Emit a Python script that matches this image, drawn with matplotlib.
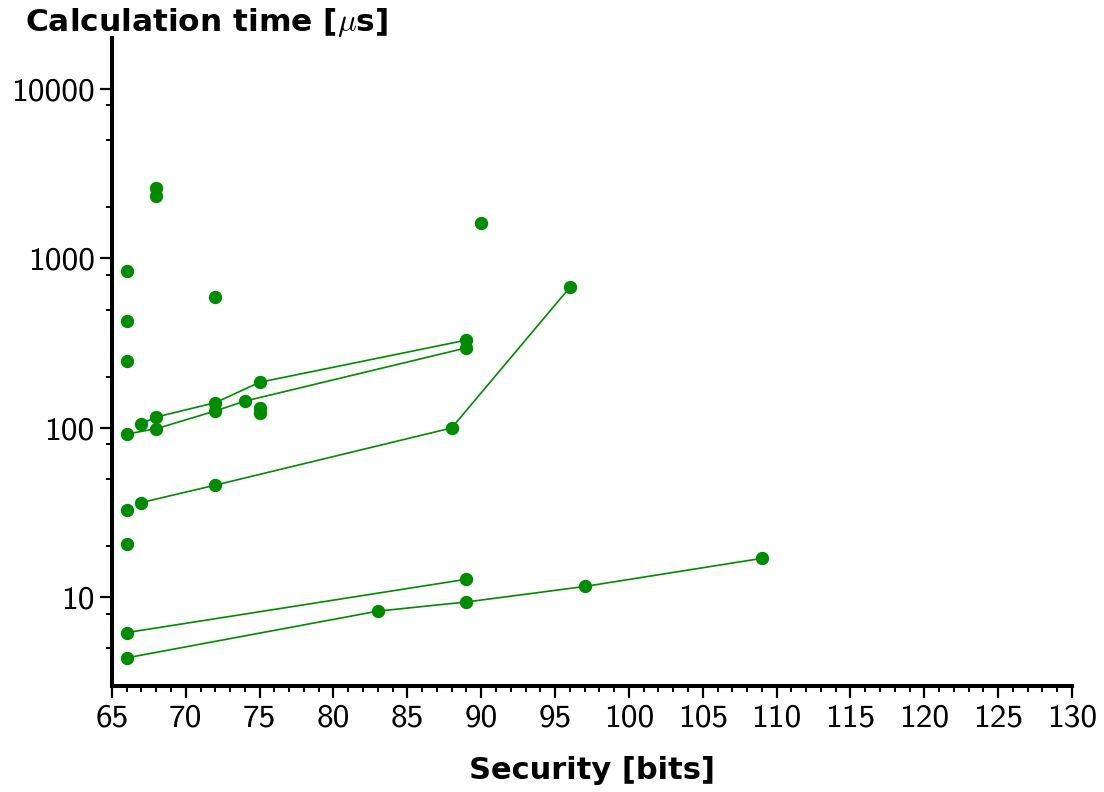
import matplotlib
matplotlib.use("Agg")
import matplotlib.pyplot as plt
from matplotlib.ticker import FixedLocator, MultipleLocator, FixedFormatter

plt.rcParams['mathtext.fontset'] = 'cm'

GREEN = '#008c00'

# Connected series (security bits, time in microseconds)
s1_x = [67, 68, 72, 75, 89]
s1_y = [106, 116, 141, 186, 330]
s2_x = [66, 68, 72, 74, 89]
s2_y = [92, 99, 126, 144, 297]
s3_x = [67, 72, 88, 96]
s3_y = [36.3, 46, 100, 675]
s4_x = [66, 89]
s4_y = [6.2, 12.8]
s5_x = [66, 83, 89, 97, 109]
s5_y = [4.4, 8.3, 9.4, 11.6, 17.0]

# Isolated points
pts_x = [68, 68, 66, 66, 66, 72, 90, 75, 75, 66, 66]
pts_y = [2595, 2345, 846, 428, 249, 589, 1618, 132, 123, 33, 20.8]

xticks = [65, 70, 75, 80, 85, 90, 95, 100, 105, 110, 115, 120, 125, 130]
yticks = [10, 100, 1000, 10000]
ytick_labels = ['10', '100', '1000', '10000']

fig = plt.figure(figsize=(11.04, 7.92), dpi=100)
ax = fig.add_axes([0.1014, 0.1338, 0.8696, 0.8182])

for xs, ys in [(s1_x, s1_y), (s2_x, s2_y), (s3_x, s3_y), (s4_x, s4_y), (s5_x, s5_y)]:
    ax.plot(xs, ys, color=GREEN, lw=1.2, marker='o', ms=8.6, mec=GREEN, mfc=GREEN)
ax.plot(pts_x, pts_y, ls='none', marker='o', ms=8.6, color=GREEN)

ax.set_yscale('log')
ax.set_xlim(65, 130)
ax.set_ylim(3, 20000)

ax.xaxis.set_major_locator(FixedLocator(xticks))
ax.xaxis.set_minor_locator(MultipleLocator(1))
ax.yaxis.set_major_locator(FixedLocator(yticks))
ax.yaxis.set_major_formatter(FixedFormatter(ytick_labels))
minor = []
for d in [1, 10, 100, 1000]:
    for m in [2, 5, 8]:
        minor.append(m * d)
minor = [v for v in minor if v != 10 and 3 <= v <= 20000]
ax.yaxis.set_minor_locator(FixedLocator(minor))
ax.yaxis.set_minor_formatter(FixedFormatter([''] * len(minor)))

for s in ['top', 'right']:
    ax.spines[s].set_visible(False)
for s in ['left', 'bottom']:
    ax.spines[s].set_linewidth(2.9)

ax.tick_params(which='major', length=8.5, width=1.6, direction='out', labelsize=24, pad=4)
ax.tick_params(which='minor', length=4.5, width=1.4, direction='out')
for lab in ax.get_xticklabels() + ax.get_yticklabels():
    lab.set_fontfamily('cmss10')

fig.text(0.0225, 0.972, r'Calculation time [$\mu$s]', fontsize=22.5, fontweight='bold',
         family='DejaVu Sans', ha='left', va='center')
fig.text(0.536, 0.027, 'Security [bits]', fontsize=22, fontweight='bold',
         family='DejaVu Sans', ha='center', va='center')

fig.savefig('out.png', dpi=100)
